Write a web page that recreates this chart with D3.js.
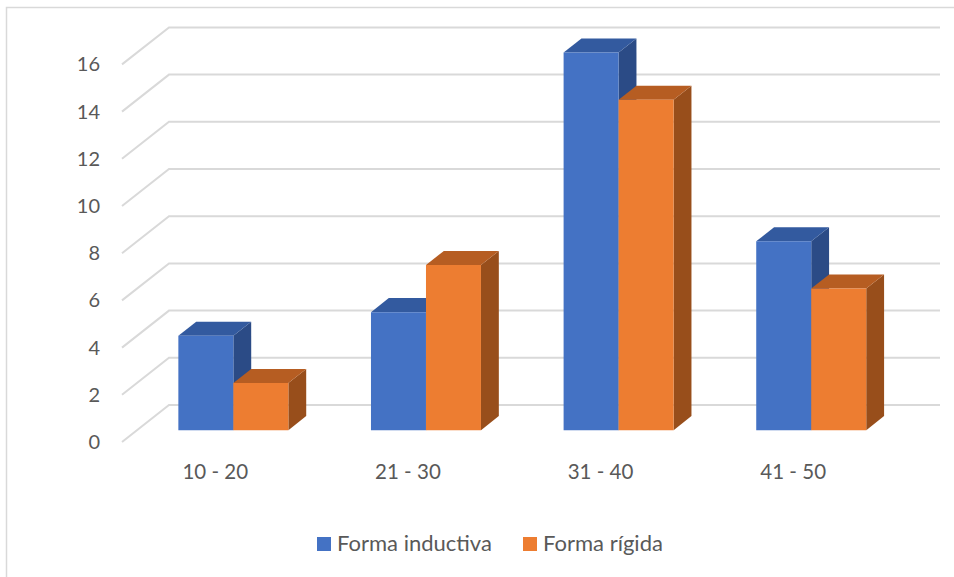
<!DOCTYPE html>
<html><head><meta charset="utf-8">
<script src="https://cdn.jsdelivr.net/npm/d3@7"></script>
<style>
html,body{margin:0;padding:0;background:#fff;}
svg{display:block;}
text{font-family:Lato,"Open Sans",sans-serif;fill:#595959;}
</style></head>
<body><svg id="c" width="954" height="577"></svg>
<script>
const categories = ["10 - 20", "21 - 30", "31 - 40", "41 - 50"];
const seriesNames = ["Forma inductiva", "Forma rígida"];
const inductiva = [4, 5, 16, 8];
const rigida = [2, 7, 14, 6];
const yTicks = [0, 2, 4, 6, 8, 10, 12, 14, 16];

const colors = {
  "Forma inductiva": {front: "#4472C4", top: "#335A9F", side: "#2B4B86"},
  "Forma rígida": {front: "#ED7D31", top: "#B65D22", side: "#984E1B"}
};

const svg = d3.select("#c");
const W = 954, H = 577;

// border
svg.append("rect").attr("x", 6.5).attr("y", 7.5).attr("width", W + 10).attr("height", H + 10)
  .attr("fill", "none").attr("stroke", "#D9D9D9").attr("stroke-width", 1.5);

const depthX = 47, depthY = 37;
const x = d3.scaleBand().domain(categories).range([122, 892.5]).padding(0);
const s = d3.scaleBand().domain(seriesNames).range([-55, 55]).padding(0);
const y = d3.scaleLinear().domain([0, 16]).range([442, 64.4]);

const P = (px, v, d) => [px + depthX * d, y(v) - depthY * d];
const line = pts => "M" + pts.map(p => p.join(",")).join("L") + "Z";
const open = pts => "M" + pts.map(p => p.join(",")).join("L");

// gridlines (side wall + back wall)
const g = svg.append("g");
yTicks.forEach(v => {
  g.append("path")
    .attr("d", open([P(122, v, 0), P(122, v, 1), P(893, v, 1)]))
    .attr("fill", "none").attr("stroke", "#D9D9D9").attr("stroke-width", 2);
});

// y labels
svg.append("g").selectAll("text").data(yTicks).join("text")
  .attr("x", 100).attr("y", d => y(d)).attr("dy", "0.35em")
  .attr("text-anchor", "end").attr("font-size", 20).text(d => d);

// bars
const d0 = 0.32, d1 = 0.70;
const series = [{name: seriesNames[0], vals: inductiva}, {name: seriesNames[1], vals: rigida}];
const bars = svg.append("g");
categories.forEach((cat, i) => {
  const c = x(cat) + x.bandwidth() / 2;
  series.forEach(ser => {
    const v = ser.vals[i];
    const x0 = c + s(ser.name), x1 = x0 + s.bandwidth();
    const col = colors[ser.name];
    bars.append("path").attr("d", line([P(x1, 0, d0), P(x1, 0, d1), P(x1, v, d1), P(x1, v, d0)]))
      .attr("fill", col.side);
    bars.append("path").attr("d", line([P(x0, v, d0), P(x0, v, d1), P(x1, v, d1), P(x1, v, d0)]))
      .attr("fill", col.top);
    bars.append("path").attr("d", line([P(x0, 0, d0), P(x1, 0, d0), P(x1, v, d0), P(x0, v, d0)]))
      .attr("fill", col.front);
  });
});

// x labels
svg.append("g").selectAll("text").data(categories).join("text")
  .attr("x", d => x(d) + x.bandwidth() / 2 - 3).attr("y", 479)
  .attr("text-anchor", "middle").attr("font-size", 20.5).text(d => d);

// legend
const legendItems = [{name: seriesNames[0], x: 317}, {name: seriesNames[1], x: 523}];
const lg = svg.append("g");
legendItems.forEach(it => {
  lg.append("rect").attr("x", it.x).attr("y", 537).attr("width", 14).attr("height", 14)
    .attr("fill", colors[it.name].front);
  lg.append("text").attr("x", it.x + 20).attr("y", 550.5).attr("font-size", 22).text(it.name);
});
</script></body></html>
